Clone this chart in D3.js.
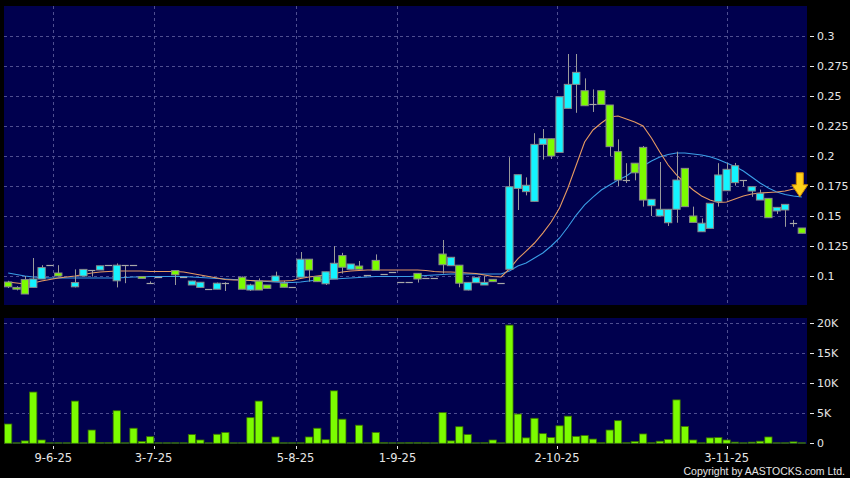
<!DOCTYPE html>
<html><head><meta charset="utf-8">
<script src="https://cdn.jsdelivr.net/npm/d3@7"></script>
<style>html,body{margin:0;padding:0;background:#000;}svg{display:block}</style>
</head><body><svg id="c" width="850" height="478"></svg>
<script>
// ---- data (index = trading day) ----
const opens  = [.095,.0905,.097,.0905,.0975,.109,.1025,null,.091,.100,.105,.105,.109,.096,.109,.109,.0995,.0945,.0995,null,
  .1045,.099,.0925,.0905,.0895,.089,.094,null,.099,.0883,.0958,.0925,.0953,.094,.091,.099,.114,.0995,.0935,.0975,
  .117,.1056,.1083,.1006,.113,.1015,.103,.0947,.0953,.1022,.098,.098,.1183,.1086,.109,.0883,.0944,.0925,.0972,.094,
  .1056,.173,.1703,.1622,.2097,.2144,.203,.2397,.2597,.2544,.243,.2544,.2425,.2036,.180,.194,.2072,.1586,.150,.1444,
  .1556,.1897,.150,.1369,.1397,.1619,.1711,.1778,.180,.1708,.1633,.1647,.1542,.155,.1444,.140];
const highs  = [.096,.0915,.100,.115,.109,.109,.109,null,.1055,.1055,.105,.1085,.109,.1105,.109,.109,.0995,.0955,.0995,null,
  .1045,.099,.096,.0948,.0895,.0945,.0948,null,.0995,.0935,.098,.0925,.1036,.096,.091,.120,.114,.0995,.1035,.125,
  .1193,.110,.1125,.1006,.118,.1015,.103,.0947,.0953,.1025,.098,.098,.130,.1156,.109,.0947,.0986,.100,.0972,.094,
  .199,.1844,.1822,.219,.2225,.2144,.2494,.285,.285,.2647,.2555,.2544,.2425,.2139,.194,.194,.2083,.1639,.195,.1556,
  .2036,.1897,.1578,.148,.1606,.194,.194,.1942,.180,.1744,.172,.1647,.1572,.1597,.1467,.140];
const lows   = [.090,.088,.085,.0905,.0975,.109,.100,null,.0905,.100,.0995,.105,.109,.0905,.094,.109,.098,.0935,.0995,null,
  .0925,.099,.0925,.0905,.0895,.089,.0875,null,.089,.0875,.0883,.0897,.0953,.0906,.091,.099,.0953,.0953,.0925,.0975,
  .102,.1056,.1056,.1006,.1047,.1015,.103,.0947,.0953,.0945,.098,.098,.102,.1086,.0906,.088,.0944,.0925,.0953,.094,
  .1056,.155,.1672,.1622,.197,.1975,.203,.2397,.236,.2419,.2367,.243,.200,.175,.1775,.1797,.1578,.150,.150,.1417,
  .1444,.1578,.1447,.1369,.1397,.1578,.1711,.1753,.1744,.166,.1633,.1486,.1517,.141,.141,.1356];
const closes = [.091,.089,.085,.0975,.107,.109,.100,null,.0945,.1055,.105,.1085,.109,.109,.109,.109,.098,.0945,.0995,null,
  .101,.099,.0958,.0948,.0895,.094,.094,null,.089,.0925,.0883,.0897,.100,.0906,.091,.114,.105,.0953,.1035,.1106,
  .1073,.110,.1056,.1006,.1047,.1015,.103,.0947,.0953,.0975,.098,.098,.1094,.1156,.094,.0947,.0986,.0947,.0953,.094,
  .1744,.1844,.1756,.2097,.2144,.200,.2494,.2597,.2697,.2419,.243,.243,.2078,.180,.180,.186,.1633,.1639,.1556,.1556,
  .180,.1578,.1447,.144,.1606,.1842,.1889,.1919,.180,.1744,.1689,.1486,.1572,.1597,.1444,.1356];
const volumes = [3200,0,400,8500,550,50,50,0,7000,100,2200,150,150,5400,0,2500,300,1100,50,50,
  50,50,1450,550,0,1500,1800,0,0,4250,7000,150,1050,100,100,0,1050,2500,600,8700,
  4000,0,3000,0,1800,150,0,0,150,150,0,0,5100,400,2750,1450,80,150,550,0,
  19600,4850,900,4150,1600,950,2900,4500,1150,1300,700,150,2200,3750,150,300,1550,150,350,650,
  7200,2800,550,50,900,950,550,200,50,200,350,1050,50,0,250,0];
const maShort = [.0950,.0942,.0933,.0942,.0958,.0971,.0983,.0992,.1000,.1013,.1025,.1033,.1038,.1042,.1042,.1042,.1042,.1038,.1038,.1038,
  .1038,.1033,.1021,.1008,.0996,.0983,.0971,.0967,.0967,.0963,.0958,.0958,.0958,.0958,.0963,.0979,.0992,.1000,.1008,.1021,
  .1033,.1042,.1046,.1050,.1050,.1050,.1050,.1050,.1050,.1050,.1046,.1038,.1033,.1033,.1029,.1025,.1021,.1008,.0996,.0992,
  .1060,.1142,.1208,.1275,.1358,.1450,.1567,.1733,.1925,.2117,.2217,.2275,.2325,.2333,.2308,.2283,.2250,.2150,.2033,.1925,
  .1842,.1775,.1717,.1667,.1633,.1613,.1617,.1642,.1667,.1683,.1692,.1696,.1700,.1708,.1725,.1733];
const maLong = [.1025,.1013,.1000,.0992,.0988,.0983,.0983,.0983,.0983,.0983,.0983,.0983,.0983,.0983,.0988,.0992,.0992,.0996,.0996,.0996,
  .0996,.0996,.0992,.0988,.0983,.0979,.0975,.0971,.0967,.0963,.0958,.0954,.0950,.0946,.0946,.0950,.0958,.0967,.0971,.0975,
  .0979,.0983,.0988,.0992,.0996,.0996,.0996,.0996,.0996,.1000,.1004,.1008,.1013,.1017,.1017,.1017,.1017,.1017,.1017,.1017,
  .1042,.1083,.1108,.1150,.1192,.1250,.1317,.1408,.1508,.1592,.1658,.1717,.1758,.1800,.1833,.1883,.1917,.1958,.1992,.2013,
  .2025,.2025,.2017,.2008,.1994,.1971,.1942,.1913,.1875,.1825,.1775,.1733,.1700,.1679,.1667,.1658];
const priceTicks = [0.1,0.125,0.15,0.175,0.2,0.225,0.25,0.275,0.3];
const priceTickLabels = ["0.1","0.125","0.15","0.175","0.2","0.225","0.25","0.275","0.3"];
const volTicks = [0,5000,10000,15000,20000];
const volTickLabels = ["0","5K","10K","15K","20K"];
const dateLabels = ["9-6-25","3-7-25","5-8-25","1-9-25","2-10-25","3-11-25"];
const dateIdx = [5.4,17.4,34.4,46.6,65.7,86.0];
const arrowValue = 0.166;

const N = closes.length;
const svg = d3.select("#c");
svg.append("rect").attr("width",850).attr("height",478).attr("fill","#000");

const P = {l:4, r:807, pt:6, pb:305, vt:318, vb:444};
const x = d3.scaleLinear().domain([-0.5, N-0.5]).range([P.l, 806]);
const step = x(1)-x(0), bw = step*0.87;
const y = d3.scaleLinear().domain([0.1-29/1200, 0.1+270/1200]).range([P.pb, P.pt]);
const yv = d3.scaleLinear().domain([0, 20730]).range([443.3, 318.3]);

const navy = "#00004e", gridC = "#4e4e90", txt = "#e6e6e6";
svg.append("rect").attr("x",P.l).attr("y",P.pt).attr("width",P.r-P.l).attr("height",P.pb-P.pt).attr("fill",navy);
svg.append("rect").attr("x",P.l).attr("y",P.vt).attr("width",P.r-P.l).attr("height",P.vb-P.vt).attr("fill",navy);

const grid = svg.append("g").attr("stroke",gridC).attr("stroke-width",1).attr("stroke-dasharray","3,3");
priceTicks.forEach(v=>{ const yy=Math.round(y(v))+0.5;
  grid.append("line").attr("x1",P.l).attr("x2",P.r).attr("y1",yy).attr("y2",yy);});
volTicks.slice(1).forEach(v=>{ const yy=Math.round(yv(v))+0.5;
  grid.append("line").attr("x1",P.l).attr("x2",P.r).attr("y1",yy).attr("y2",yy);});
dateIdx.forEach(d=>{ const xx=Math.round(x(d))+0.5;
  grid.append("line").attr("x1",xx).attr("x2",xx).attr("y1",P.pt).attr("y2",P.pb);
  grid.append("line").attr("x1",xx).attr("x2",xx).attr("y1",P.vt).attr("y2",P.vb);});

// right axes
const ax = svg.append("g").attr("font-family","DejaVu Sans, Verdana, sans-serif").attr("font-size",11).attr("fill",txt);
priceTicks.forEach((v,i)=>{ const yy=y(v);
  ax.append("line").attr("x1",810).attr("x2",814).attr("y1",Math.round(yy)+0.5).attr("y2",Math.round(yy)+0.5).attr("stroke",txt);
  ax.append("text").attr("x",817).attr("y",yy).attr("dy","0.36em").text(priceTickLabels[i]);});
volTicks.forEach((v,i)=>{ const yy=yv(v);
  ax.append("line").attr("x1",810).attr("x2",814).attr("y1",Math.round(yy)+0.5).attr("y2",Math.round(yy)+0.5).attr("stroke",txt);
  ax.append("text").attr("x",817).attr("y",yy).attr("dy","0.36em").text(volTickLabels[i]);});
dateIdx.forEach((d,i)=>{ const xx=x(d);
  ax.append("line").attr("x1",Math.round(xx)+0.5).attr("x2",Math.round(xx)+0.5).attr("y1",446).attr("y2",449).attr("stroke",txt);
  ax.append("text").attr("x",xx).attr("y",461.5).attr("font-size",11.5).attr("text-anchor","middle").text(dateLabels[i]);});
ax.append("text").attr("x",845).attr("y",474.5).attr("font-size",10.5).attr("text-anchor","end")
  .attr("font-family","Liberation Sans, Arial, sans-serif").text("Copyright by AASTOCKS.com Ltd.");

// volume bars
const vg = svg.append("g");
volumes.forEach((v,i)=>{
  const top = yv(v), h = Math.max(yv(0)-top, 0.6);
  vg.append("rect").attr("x",x(i)-bw/2).attr("y",yv(0)-h).attr("width",bw).attr("height",h)
    .attr("fill","#7cfc00").attr("stroke", v>=300 ? "#3a7000" : "#2e5a10").attr("stroke-width",0.8);
});

// moving averages
const line = d3.line().x((d,i)=>x(i)).y(d=>y(d)).curve(d3.curveLinear);
svg.append("path").attr("d",line(maLong)).attr("fill","none").attr("stroke","#3a9ee6").attr("stroke-width",1.1);
svg.append("path").attr("d",line(maShort)).attr("fill","none").attr("stroke","#e69a62").attr("stroke-width",1.1);

// candles
const cg = svg.append("g");
for(let i=0;i<N;i++){
  if(opens[i]==null) continue;
  const o=opens[i],h=highs[i],l=lows[i],c=closes[i], cx=Math.round(x(i))+0.5;
  cg.append("line").attr("x1",cx).attr("x2",cx).attr("y1",y(h)).attr("y2",y(l)).attr("stroke","#9a9a9a").attr("stroke-width",1);
  if(Math.abs(o-c)<1e-9){
    cg.append("line").attr("x1",x(i)-bw/2).attr("x2",x(i)+bw/2).attr("y1",Math.round(y(c))+0.5).attr("y2",Math.round(y(c))+0.5)
      .attr("stroke","#a8a8a8").attr("stroke-width",1.2);
  } else {
    const t=y(Math.max(o,c)), b=y(Math.min(o,c));
    cg.append("rect").attr("x",x(i)-bw/2).attr("y",t).attr("width",bw).attr("height",Math.max(b-t,1.5))
      .attr("fill", c>o ? "#14f4ff" : "#7cfc00").attr("stroke","#8a8a8a").attr("stroke-width",1);
  }
}

// arrow marker at last bar
const axp = x(N-1)-2, ay = y(arrowValue);
svg.append("path").attr("d",`M${axp-3.5},${ay-24} h7 v12 h4.5 L${axp},${ay} L${axp-8},${ay-12} h4.5 Z`)
  .attr("fill","#ffd21a").attr("stroke","#d08a00").attr("stroke-width",1);
</script></body></html>
